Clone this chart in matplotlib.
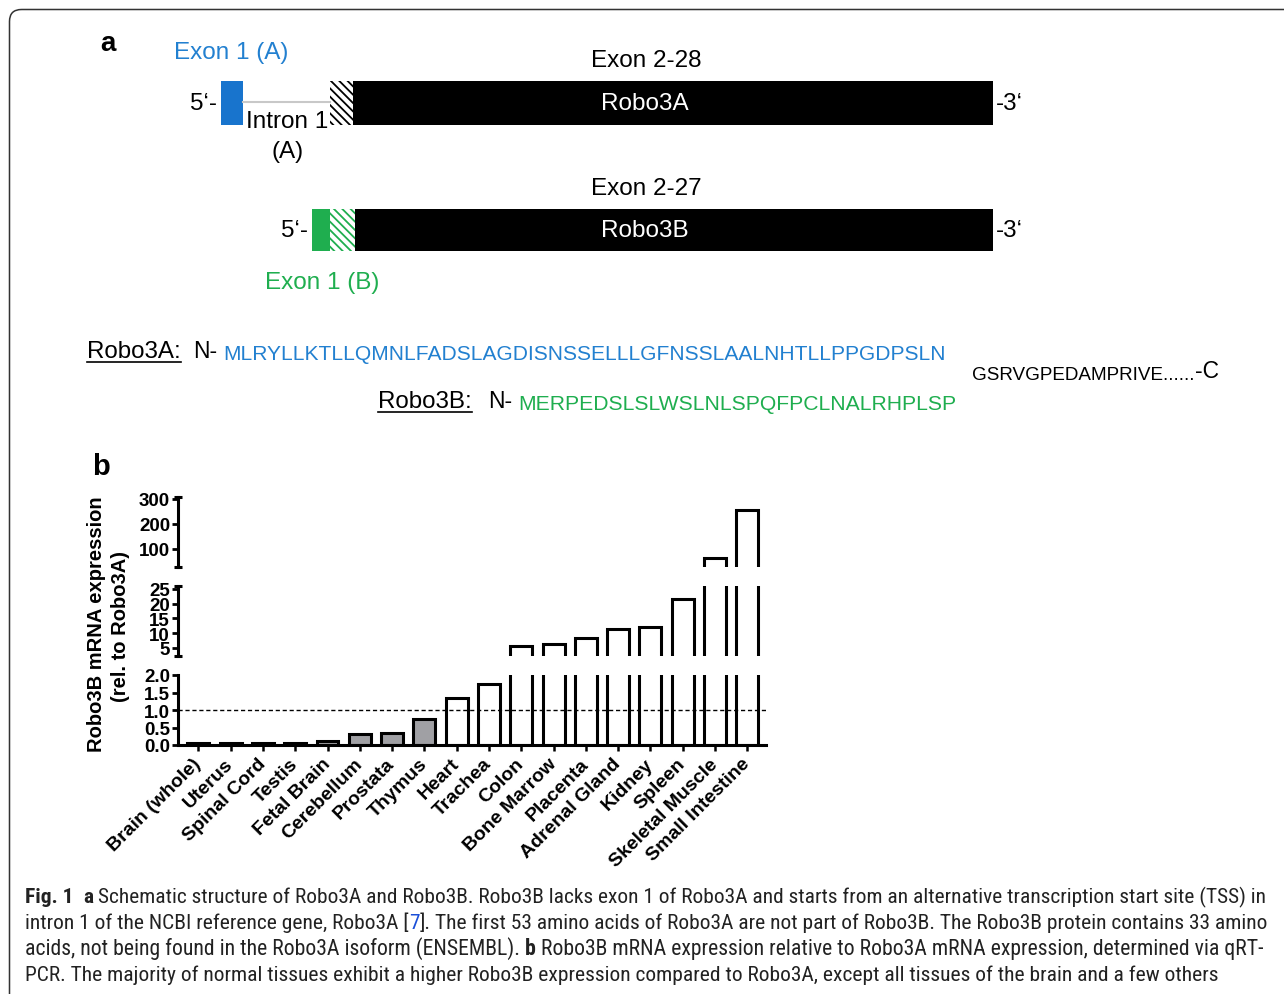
import matplotlib
matplotlib.use('Agg')
import matplotlib.pyplot as plt
from matplotlib.patches import Rectangle, FancyBboxPatch
from matplotlib import font_manager
import numpy as np

plt.rcParams['font.family'] = ['Liberation Sans', 'DejaVu Sans']
plt.rcParams['hatch.linewidth'] = 1.3

# ---- data for panel b ----
tissues = ['Brain (whole)', 'Uterus', 'Spinal Cord', 'Testis', 'Fetal Brain',
           'Cerebellum', 'Prostata', 'Thymus', 'Heart', 'Trachea', 'Colon',
           'Bone Marrow', 'Placenta', 'Adrenal Gland', 'Kidney', 'Spleen',
           'Skeletal Muscle', 'Small Intestine']
expression = [0.05, 0.05, 0.07, 0.05, 0.12, 0.32, 0.34, 0.75, 1.35, 1.75,
              5.7, 6.3, 8.4, 11.4, 12.1, 21.6, 63, 257]
n_grey = 8  # bars below 1 are drawn grey

# broken y axis: (limits, ticks, tick labels)
seg_low = ((0, 2.0), [0, 0.5, 1.0, 1.5, 2.0], ['0.0', '0.5', '1.0', '1.5', '2.0'])
seg_mid = ((2.29, 26), [5, 10, 15, 20, 25], ['5', '10', '15', '20', '25'])
seg_high = ((28, 306), [100, 200, 300], ['100', '200', '300'])

# ---- text of panel a ----
seq_a = 'MLRYLLKTLLQMNLFADSLAGDISNSSELLLGFNSSLAALNHTLLPPGDPSLN'
seq_b = 'MERPEDSLSLWSLNLSPQFPCLNALRHPLSP'
seq_common = 'GSRVGPEDAMPRIVE......'

caption = [
    [('Fig. 1', 'b'), ('  a', 'b'), (' Schematic structure of Robo3A and Robo3B. Robo3B lacks exon 1 of Robo3A and starts from an alternative transcription start site (TSS) in', 'n')],
    [('intron 1 of the NCBI reference gene, Robo3A [', 'n'), ('7', 'l'), ('].', 'n'), (' The first 53 amino acids of Robo3A are not part of Robo3B. The Robo3B protein contains 33 amino', 'n')],
    [('acids, not being found in the Robo3A isoform (ENSEMBL).', 'n'), (' b', 'b'), (' Robo3B mRNA expression relative to Robo3A mRNA expression, determined via qRT-', 'n')],
    [('PCR. The majority of normal tissues exhibit a higher Robo3B expression compared to Robo3A, except all tissues of the brain and a few others', 'n')],
]
caption_ends = [1262, 1265, 1262, 1213]

BLUE = '#1874cd'
BLUE_TXT = '#2280d0'
GREEN = '#1fae4f'
GREY = '#a0a0a4'


def wnum(w):
    if isinstance(w, str):
        return font_manager.weight_dict.get(w, 400)
    return w


# caption font: a narrow family with a regular (non bold) face if one exists
cap_family, cap_stretch, cap_w = 'Open Sans', 'normal', 400
ttf = font_manager.fontManager.ttflist
for name in ['Roboto Condensed', 'Open Sans Condensed', 'Liberation Sans Narrow']:
    ws = [wnum(f.weight) for f in ttf if f.name == name]
    lights = [w for w in ws if w <= 400]
    if lights:
        cap_family, cap_w = name, max(lights)
        break
else:
    if any(f.name == 'DejaVu Sans' and f.stretch == 'condensed' and wnum(f.weight) <= 400 for f in ttf):
        cap_family, cap_stretch = 'DejaVu Sans', 'condensed'

fig = plt.figure(figsize=(12.84, 9.95), dpi=100)
renderer = fig.canvas.get_renderer()

ax0 = fig.add_axes([0, 0, 1, 1], zorder=0)
ax0.set_xlim(0, 1284)
ax0.set_ylim(995, 0)
ax0.axis('off')

# frame
ax0.add_patch(FancyBboxPatch((9.5, 10.5), 1300, 1000, boxstyle='round,pad=0,rounding_size=12',
                             fc='none', ec='#333333', lw=1.1, clip_on=False))


def width_of(t):
    return t.get_window_extent(renderer).width


def fit_text(x, y, s, target_w, size0=15, **kw):
    t = ax0.text(x, y, s, fontsize=size0, **kw)
    w = width_of(t)
    t.set_fontsize(size0 * target_w / w)
    return t


FS = 17.5

# ---- panel a ----
ax0.text(108, 44, 'a', fontsize=20, fontweight='bold', ha='center', va='center')

ax0.text(231.5, 53, 'Exon 1 (A)', fontsize=FS, color=BLUE_TXT, ha='center', va='center')
ax0.text(646, 61, 'Exon 2-28', fontsize=FS, ha='center', va='center')
ax0.text(217, 104, '5‘-', fontsize=FS, ha='right', va='center')
ax0.add_patch(Rectangle((221, 82), 22, 44, fc=BLUE, ec='none'))
ax0.plot([243, 330], [103, 103], color='#c8c8c8', lw=1.5)
ax0.add_patch(Rectangle((330, 82), 23, 44, fc='white', ec='black', lw=0, hatch='\\\\\\\\'))
ax0.add_patch(Rectangle((353, 82), 640, 44, fc='black', ec='none'))
ax0.text(645, 104, 'Robo3A', fontsize=FS, color='white', ha='center', va='center')
ax0.text(996, 104, '-3‘', fontsize=FS, ha='left', va='center')
ax0.text(246, 122, 'Intron 1', fontsize=FS, ha='left', va='center')
ax0.text(288, 152, '(A)', fontsize=FS, ha='center', va='center')

ax0.text(646, 189, 'Exon 2-27', fontsize=FS, ha='center', va='center')
ax0.text(308, 231, '5‘-', fontsize=FS, ha='right', va='center')
ax0.add_patch(Rectangle((312, 210), 18, 42, fc=GREEN, ec='none'))
ax0.add_patch(Rectangle((330, 210), 25, 42, fc='white', ec=GREEN, lw=0, hatch='\\\\\\\\'))
ax0.add_patch(Rectangle((355, 210), 638, 42, fc='black', ec='none'))
ax0.text(645, 231, 'Robo3B', fontsize=FS, color='white', ha='center', va='center')
ax0.text(996, 231, '-3‘', fontsize=FS, ha='left', va='center')
ax0.text(322.5, 283, 'Exon 1 (B)', fontsize=FS, color=GREEN, ha='center', va='center')

# sequences
fit_text(87, 352, 'Robo3A:', 94, 16, ha='left', va='center')
ax0.plot([87, 181], [363, 363], color='black', lw=1.2)
ax0.text(193, 352, 'N-', fontsize=16.5, ha='left', va='center')
fit_text(223, 355, seq_a, 726, 15, color=BLUE_TXT, ha='left', va='center')

fit_text(378, 402, 'Robo3B:', 94, 16, ha='left', va='center')
ax0.plot([378, 472], [413, 413], color='black', lw=1.2)
ax0.text(488, 402, 'N-', fontsize=16.5, ha='left', va='center')
fit_text(518, 404, seq_b, 439, 15, color=GREEN, ha='left', va='center')

fit_text(972, 376, seq_common, 221, 13, ha='left', va='center')
ax0.text(1195, 372, '-C', fontsize=16.5, ha='left', va='center')

# ---- panel b ----
ax0.text(101, 467, 'b', fontsize=21, fontweight='bold', ha='center', va='center')
ax0.text(96, 624, 'Robo3B mRNA expression', fontsize=14.5, fontweight='bold',
         rotation=90, ha='center', va='center')
ax0.text(120, 627, '(rel. to Robo3A)', fontsize=14.5, fontweight='bold',
         rotation=90, ha='center', va='center')

W, H = 1284.0, 995.0
x_left, x_right = 177.7, 766.0
segments = [(seg_low, 746, 676), (seg_mid, 657, 587), (seg_high, 568, 498.5)]
x = np.arange(len(tissues))
colors = [GREY] * n_grey + ['white'] * (len(tissues) - n_grey)

for i, (seg, y_bot, y_top) in enumerate(segments):
    lims, ticks, labels = seg
    ax = fig.add_axes([x_left / W, 1 - y_bot / H, (x_right - x_left) / W, (y_bot - y_top) / H],
                      zorder=2)
    ax.patch.set_alpha(0)
    ax.bar(x, expression, width=0.68, color=colors, edgecolor='black', linewidth=2.2)
    ax.set_xlim(-0.64, 17.58)
    ax.set_ylim(*lims)
    ax.set_yticks(ticks)
    ax.set_yticklabels(labels, fontsize=13.5, fontweight='bold')
    ax.tick_params(axis='y', direction='out', length=4.5, width=2.0, pad=1)
    for s in ['top', 'right']:
        ax.spines[s].set_visible(False)
    ax.spines['left'].set_linewidth(2.2)
    if i == 0:
        ax.spines['bottom'].set_linewidth(2.2)
        ax.set_xticks(x)
        ax.set_xticklabels(tissues, fontsize=14, fontweight='bold', rotation=45,
                           ha='right', va='center', rotation_mode='anchor')
        ax.tick_params(axis='x', direction='out', length=4.5, width=1.8, pad=7)
        ax.axhline(1.0, color='black', lw=1.0, ls=(0, (3, 2)))
    else:
        ax.spines['bottom'].set_visible(False)
        ax.set_xticks([])
        # end caps of the broken axis
        ax.plot([0, 0], [0, 1], transform=ax.transAxes, ls='none', marker='_',
                ms=6, mew=2.2, color='black', clip_on=False)

# ---- caption ----
cap_color = '#222222'
for li, line in enumerate(caption):
    y = 903 + 26 * li

    def draw(size):
        xx = 25.0
        arts = []
        kw = dict(fontsize=size, family=cap_family, fontstretch=cap_stretch)
        probe = ax0.text(0, 0, 'x x', fontweight=cap_w, **kw)
        probe2 = ax0.text(0, 0, 'xx', fontweight=cap_w, **kw)
        space = width_of(probe) - width_of(probe2)
        probe.remove()
        probe2.remove()
        for txt, st in line:
            lead = len(txt) - len(txt.lstrip(' '))
            xx += lead * space
            col = '#1a4fd8' if st == 'l' else cap_color
            t = ax0.text(xx, y, txt.lstrip(' '), color=col,
                         fontweight='bold' if st == 'b' else cap_w,
                         ha='left', va='baseline', **kw)
            xx += width_of(t)
            arts.append(t)
        return xx, arts

    end, arts = draw(13)
    for a in arts:
        a.remove()
    draw(13 * (caption_ends[li] - 25) / (end - 25))

fig.savefig('out.png', dpi=100)
